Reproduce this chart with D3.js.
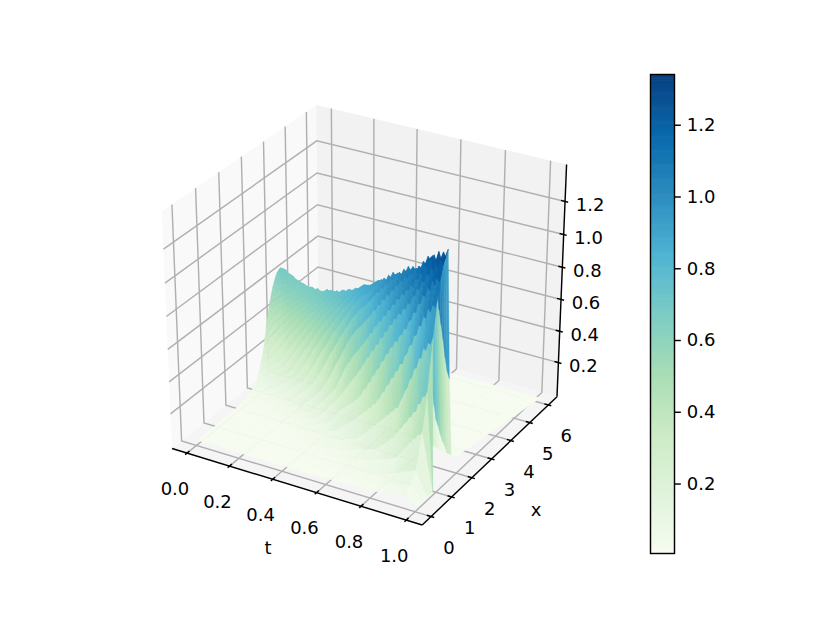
<!DOCTYPE html>
<html><head><meta charset="utf-8">
<script src="https://cdn.jsdelivr.net/npm/d3@7"></script>
<style>html,body{margin:0;padding:0;background:#fff}svg{display:block}text{font-family:"DejaVu Sans";fill:#000}</style>
</head><body><div id="chart"></div>
<script>
const tTicks = [0, 0.2, 0.4, 0.6, 0.8, 1.0];
const xTicks = [0, 1, 2, 3, 4, 5, 6];
const zTicks = [0.2, 0.4, 0.6, 0.8, 1.0, 1.2];
const tBox = [-0.071, 1.07];
const xBox = [-0.42, 6.48];
const zBox = [-0.02, 1.42];
const colorDomain = [0.005, 1.34];
const gnbu = ["#f7fcf0","#e0f3db","#ccebc5","#a8ddb5","#7bccc4","#4eb3d3","#2b8cbe","#0868ac","#084081"];

// Ridge: one entry per time row (t = 0, .01, ... .95, then the closing row at 1)
const crestX = [3.90,3.88,3.85,3.83,3.80,3.78,3.76,3.73,3.71,3.68,
3.66,3.64,3.61,3.59,3.56,3.54,3.52,3.49,3.47,3.44,
3.42,3.40,3.37,3.35,3.32,3.30,3.28,3.25,3.23,3.20,
3.18,3.16,3.13,3.11,3.08,3.06,3.04,3.01,2.99,2.96,
2.94,2.92,2.89,2.87,2.84,2.82,2.80,2.77,2.75,2.72,
2.70,2.68,2.67,2.65,2.64,2.62,2.61,2.59,2.58,2.56,
2.55,2.53,2.52,2.50,2.49,2.47,2.46,2.44,2.43,2.41,
2.40,2.38,2.37,2.35,2.34,2.32,2.31,2.29,2.28,2.26,
2.25,2.23,2.21,2.19,2.17,2.15,2.13,2.11,2.09,2.07,
2.05,2.03,2.02,2.00,1.99,1.98,1.98];
const crestZ = [.66,.68,.69,.69,.69,.69,.68,.68,.68,.68,
.67,.67,.67,.67,.67,.67,.67,.67,.67,.67,
.68,.68,.68,.68,.69,.69,.69,.69,.70,.71,
.72,.72,.73,.73,.74,.74,.75,.75,.76,.77,
.78,.78,.79,.80,.81,.81,.82,.83,.84,.85,
.86,.87,.88,.89,.90,.90,.91,.92,.93,.94,
.95,.97,.96,.99,.98,1.01,1.00,1.03,1.02,1.05,
1.04,1.07,1.06,1.09,1.08,1.11,1.09,1.12,1.11,1.14,
1.12,1.16,1.15,1.19,1.17,1.22,1.20,1.25,1.22,1.27,
1.23,1.29,1.25,1.29,1.26,1.31,0];
const rowT = crestX.map((_, i) => i < 96 ? i / 100 : 1.0);
// How much wider the front of the ridge gets as time goes on
const widthT = [0, .2, .3, .4, .5, .6, .7, .8, .9, 1];
const widthK = [1, 1, 1.02, 1.05, 1.08, 1.11, 1.15, 1.19, 1.23, 1.28];
// Cross-section of the ridge: share of crest height against distance behind the crest
const profileOffset = [-7,-.5,-.3,-.2,-.1,-.05,-.035,0,.1,.2,.3,.45,.6,.8,1.1,1.4,1.8,2.4,3.2,7];
const profileShare  = [0,0,.03,.2,.7,.96,.98,1,.985,.94,.88,.76,.6,.34,.12,.05,.015,.005,.002,0];
// Mesh columns of the surface (uneven, as the fins in the picture show)
const xGrid = [.05,.3,.55,.85,1.07,1.30,1.50,1.68,1.84,1.98,2.14,2.30,2.44,2.56,2.67,2.77,2.86,2.95,3.03,3.11,3.18,3.25,3.32,3.39,3.46,3.53,3.60,3.67,3.74,3.81,3.88,3.95,4.05,4.3,4.8,5.4,6.03];
const floorLevel = 0.006;
const cutX = 0.85, fanX = 1.30;          // the last strip stops short: full up to cutX, a fan up to fanX
const wedgeT = [0.95, 0.95, 1.03], wedgeX = [2.30, 6.03, 6.03];

const W = 830, H = 623;
const svg = d3.select("#chart").append("svg").attr("width", W).attr("height", H);

const bt = d3.scaleLinear().domain(tBox).range([0, 1]);
const bx = d3.scaleLinear().domain(xBox).range([0, 1]);
const bz = d3.scaleLinear().domain(zBox).range([0, 1]);
const sx = d3.scaleLinear().domain([0, 1]).range([367.5, 367.5 + 2888]);
const sy = d3.scaleLinear().domain([0, 1]).range([307.8, 307.8 - 2708]);

const c30 = Math.cos(Math.PI/6), s30 = .5, cA = .5, sA = -Math.sqrt(3)/2;
const w = [c30*cA, c30*sA, s30];
const u = [-sA, cA, 0].map(v => v/Math.hypot(sA, cA));
const v = [w[1]*u[2]-w[2]*u[1], w[2]*u[0]-w[0]*u[2], w[0]*u[1]-w[1]*u[0]];
const dot = (a, b) => a[0]*b[0]+a[1]*b[1]+a[2]*b[2];
function box(p) {
  const r = [p[0]-.5, p[1]-.5, p[2]-.5];
  const d = 10 - dot(w, r);
  return {x: sx(dot(u, r)/d), y: sy(dot(v, r)/d), d};
}
const P = (t, x, z) => box([bt(t), bx(x), bz(z)]);
const path = pts => "M" + pts.map(p => p.x.toFixed(2) + "," + p.y.toFixed(2)).join("L");
const [tL, tH] = tBox, [xL, xH] = xBox, [zL, zH] = zBox;

const panes = [
  {c: "#f9f9f9", p: [[tL,xL,zL],[tL,xH,zL],[tL,xH,zH],[tL,xL,zH]]},
  {c: "#f2f2f2", p: [[tL,xH,zL],[tH,xH,zL],[tH,xH,zH],[tL,xH,zH]]},
  {c: "#f5f5f5", p: [[tL,xL,zL],[tH,xL,zL],[tH,xH,zL],[tL,xH,zL]]}
];
svg.append("g").selectAll("path").data(panes).join("path")
  .attr("d", d => path(d.p.map(q => P(...q))) + "Z").attr("fill", d => d.c);

const grid = [
  ...tTicks.map(t => [[t,xL,zL],[t,xH,zL],[t,xH,zH]]),
  ...xTicks.map(x => [[tH,x,zL],[tL,x,zL],[tL,x,zH]]),
  ...zTicks.map(z => [[tL,xL,z],[tL,xH,z],[tH,xH,z]])
];
svg.append("g").selectAll("path").data(grid).join("path")
  .attr("d", d => path(d.map(q => P(...q)))).attr("fill", "none")
  .attr("stroke", "#b0b0b0").attr("stroke-width", 1.44);

const axes = [[[tL,xL,zL],[tH,xL,zL]], [[tH,xL,zL],[tH,xH,zL]], [[tH,xH,zL],[tH,xH,zH]]];
const tSpan = tH-tL, xSpan = xH-xL;
const tickSegs = [
  ...tTicks.map(t => [[t,xL-.012*xSpan,zL],[t,xL+.016*xSpan,zL]]),
  ...xTicks.map(x => [[tH+.012*tSpan,x,zL],[tH-.016*tSpan,x,zL]]),
  ...zTicks.map(z => [[tH+.012*tSpan,xH,z],[tH-.016*tSpan,xH,z]])
];
svg.append("g").selectAll("path").data(axes.concat(tickSegs)).join("path")
  .attr("d", d => path(d.map(q => P(...q)))).attr("fill","none")
  .attr("stroke","#000").attr("stroke-width",1.44);

const color = d3.scaleLinear()
  .domain(d3.range(9).map(i => colorDomain[0] + (colorDomain[1]-colorDomain[0])*i/8))
  .range(gnbu).clamp(true);
const share = d3.scaleLinear().domain(profileOffset).range(profileShare);
const widen = d3.scaleLinear().domain(widthT).range(widthK);
const height = (i, x) => {
  const off = crestX[i] - x;
  return floorLevel + crestZ[i] * share(off > 0 ? off / widen(rowT[i]) : off);
};
const faces = [];
const last = rowT.length - 2;
for (let i = 0; i <= last; i++) {
  for (let j = 0; j < xGrid.length-1; j++) {
    const a = xGrid[j], b = xGrid[j+1];
    let corners;
    if (i === last) {
      if (b <= cutX) corners = [[i,a],[i,b],[i+1,b],[i+1,a]];
      else if (b <= fanX) corners = [[i,a],[i,b],[i+1,cutX]];
      else continue;
    } else corners = [[i,a],[i,b],[i+1,b],[i+1,a]];
    const zs = corners.map(c => height(c[0], c[1]));
    const pts = corners.map((c, k) => P(rowT[c[0]], c[1], zs[k]));
    faces.push({pts, z: d3.mean(zs), d: d3.mean(pts, p => p.d)});
  }
}
faces.sort((p, q) => q.d - p.d);
const wedgePts = wedgeT.map((t, i) => P(t, wedgeX[i], floorLevel));
svg.append("path").attr("d", path(wedgePts) + "Z").attr("fill", color(floorLevel)).attr("stroke", color(floorLevel)).attr("stroke-width", .4);
svg.append("g").selectAll("path").data(faces).join("path")
  .attr("d", d => path(d.pts) + "Z")
  .attr("fill", d => color(d.z)).attr("stroke", d => color(d.z)).attr("stroke-width", .35);

const fs = 18;
const label = (g, data, fx, fy, txt) => g.selectAll(null).data(data).join("text")
  .attr("x", fx).attr("y", fy).attr("text-anchor","middle").attr("dominant-baseline","central")
  .attr("font-size", fs).text(txt);
const lab = svg.append("g");
label(lab, tTicks, d => P(d,xL,zL).x - 12, d => P(d,xL,zL).y + 35, d => d.toFixed(1));
label(lab, xTicks, d => P(tH,d,zL).x + 18, d => P(tH,d,zL).y + 31, d => d);
label(lab, zTicks, d => P(tH,xH,d).x + 25, d => P(tH,xH,d).y + 3, d => d.toFixed(1));
lab.append("text").attr("x",268).attr("y",547).attr("text-anchor","middle").attr("dominant-baseline","central").attr("font-size",fs).text("t");
lab.append("text").attr("x",536).attr("y",509).attr("text-anchor","middle").attr("dominant-baseline","central").attr("font-size",fs).text("x");

const cbX = 650.5, cbW = 24, cbTop = 74.5, cbBot = 553.5;
const cbY = d3.scaleLinear().domain(colorDomain).range([cbBot, cbTop]);
const levels = d3.range(256).map(i => colorDomain[0] + (colorDomain[1]-colorDomain[0])*(i+.5)/256);
const cb = svg.append("g");
cb.selectAll("rect").data(levels).join("rect")
  .attr("x", cbX).attr("width", cbW)
  .attr("y", d => cbY(d) - (cbBot-cbTop)/512).attr("height", (cbBot-cbTop)/256 + .6)
  .attr("fill", d => color(d));
cb.append("rect").attr("x",cbX).attr("y",cbTop).attr("width",cbW).attr("height",cbBot-cbTop)
  .attr("fill","none").attr("stroke","#000").attr("stroke-width",1.44);
const axisG = cb.append("g").attr("transform",`translate(${cbX+cbW},0)`)
  .call(d3.axisRight(cbY).tickValues(zTicks).tickFormat(d3.format(".1f")).tickSize(6.3).tickPadding(6));
axisG.select(".domain").remove();
axisG.selectAll("line").attr("stroke","#000").attr("stroke-width",1.44);
axisG.selectAll("text").attr("font-size",fs).attr("font-family","DejaVu Sans").attr("fill","#000");
</script></body></html>
